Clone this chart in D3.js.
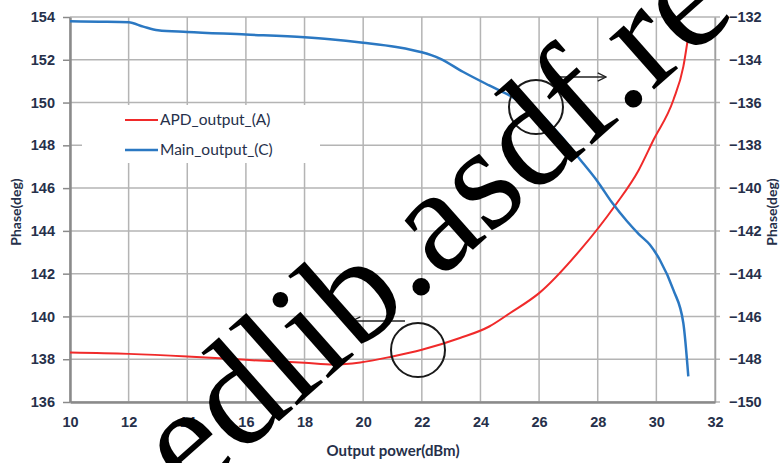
<!DOCTYPE html>
<html>
<head>
<meta charset="utf-8">
<script src="https://cdn.jsdelivr.net/npm/d3@7"></script>
<style>
  body { margin: 0; background: #fff; }
  svg { display: block; font-family: Lato, "Open Sans", sans-serif; }
</style>
</head>
<body>
<svg id="chart" width="780" height="463"></svg>
<script>
// tick values for the three axes
const X_TICKS = [10, 12, 14, 16, 18, 20, 22, 24, 26, 28, 30, 32];
const LEFT_TICKS = [136, 138, 140, 142, 144, 146, 148, 150, 152, 154];
const RIGHT_TICKS = [-150, -148, -146, -144, -142, -140, -138, -136, -134, -132];

const SERIES_NAMES = ['APD_output_(A)', 'Main_output_(C)'];

// APD output (red), read against the left axis
const APD_POWER = [10, 12, 14, 16, 18, 19, 19.9, 21, 22, 23.3, 24.3, 25, 26, 27.4, 28.6, 29.4, 29.9, 30.58, 30.92, 31.11];
const APD_PHASE = [138.31, 138.25, 138.13, 137.97, 137.83, 137.75, 137.85, 138.13, 138.44, 138.99, 139.53, 140.15, 141.09, 143.1, 145.2, 146.85, 148.25, 150.12, 151.68, 153.31];

// Main output (blue), read against the right axis
const MAIN_POWER = [10, 11, 12, 12.5, 13, 14, 16, 18, 18.87, 20, 21.13, 22, 22.6, 23.4, 24.3, 25.06, 26, 26.7, 27.39, 28, 28.5, 29, 29.4, 29.78, 30.12, 30.58, 30.92, 31.09];
const MAIN_PHASE = [-132.2, -132.22, -132.25, -132.45, -132.62, -132.7, -132.82, -132.95, -133.04, -133.2, -133.4, -133.65, -133.93, -134.56, -135.2, -135.72, -136.5, -137.5, -138.65, -139.7, -140.7, -141.55, -142.15, -142.65, -143.36, -144.76, -146.31, -148.8];

const W = 780, H = 463;
const M = {top: 17, right: 65, bottom: 61, left: 70};
const TEXT_COLOR = '#26304a';
const GRID_COLOR = '#b4b4b4';
const TICK_FONT = 14.5;

const svg = d3.select('#chart');

const xscale = d3.scaleLinear().domain([10, 32]).range([M.left, W - M.right]);
const yleft = d3.scaleLinear().domain([136, 154]).range([H - M.bottom, M.top]);
const yright = d3.scaleLinear().domain([-150, -132]).range([H - M.bottom, M.top]);

// grid first so everything else sits on top
let grid = svg.append('g').classed('grid', true);
grid.selectAll('.hgrid').data(LEFT_TICKS)
  .enter()
  .append('line')
  .attr('x1', M.left)
  .attr('x2', W - M.right + 5)
  .attr('y1', d => yleft(d))
  .attr('y2', d => yleft(d))
  .attr('stroke', GRID_COLOR)
  .attr('stroke-width', 1.5);
grid.selectAll('.vgrid').data(X_TICKS)
  .enter()
  .append('line')
  .attr('x1', d => xscale(d))
  .attr('x2', d => xscale(d))
  .attr('y1', M.top)
  .attr('y2', H - M.bottom)
  .attr('stroke', GRID_COLOR)
  .attr('stroke-width', 1.5);

// left axis
let lax = svg.append('g')
  .attr('transform', `translate(${M.left} 0)`)
  .call(d3.axisLeft(yleft).tickValues(LEFT_TICKS).tickSizeOuter(0).tickSizeInner(7).tickPadding(8));
// right axis
let rax = svg.append('g')
  .attr('transform', `translate(${W - M.right} 0)`)
  .call(d3.axisRight(yright).tickValues(RIGHT_TICKS).tickSizeOuter(0).tickSizeInner(0).tickPadding(14));
// bottom axis
let bax = svg.append('g')
  .attr('transform', `translate(0 ${H - M.bottom})`)
  .call(d3.axisBottom(xscale).tickValues(X_TICKS).tickSizeOuter(0).tickSizeInner(0).tickPadding(15));

[lax, rax, bax].forEach(ax => {
  ax.selectAll('text')
    .attr('fill', TEXT_COLOR)
    .attr('font-size', TICK_FONT)
    .attr('font-weight', 600);
  ax.selectAll('.tick line').attr('stroke', '#8a8a8a').attr('stroke-width', 1.5);
});
lax.select('.domain').attr('stroke', '#8a8a8a').attr('stroke-width', 2.5);
bax.select('.domain').attr('stroke', '#8a8a8a').attr('stroke-width', 2.5);
rax.select('.domain').attr('stroke', '#a0a0a0').attr('stroke-width', 1.5);

// axis titles
let ytitle = (x) => svg.append('text')
  .attr('transform', `translate(${x} 212) rotate(-90)`)
  .attr('text-anchor', 'middle')
  .attr('font-size', 14)
  .attr('font-weight', 700)
  .attr('fill', TEXT_COLOR)
  .text('Phase(deg)');
ytitle(21);
ytitle(777);
svg.append('text')
  .attr('x', 393)
  .attr('y', 456)
  .attr('text-anchor', 'middle')
  .attr('font-size', 15)
  .attr('font-weight', 700)
  .attr('fill', TEXT_COLOR)
  .text('Output power(dBm)');

// series
let series = [
  {name: SERIES_NAMES[0], xs: APD_POWER, ys: APD_PHASE, yscale: yleft, color: '#f02a2a', w: 2},
  {name: SERIES_NAMES[1], xs: MAIN_POWER, ys: MAIN_PHASE, yscale: yright, color: '#2b78c2', w: 2.5},
];
series.forEach(s => {
  let pts = s.xs.map((x, i) => [x, s.ys[i]]);
  let line = d3.line()
    .x(p => xscale(p[0]))
    .y(p => s.yscale(p[1]))
    .curve(d3.curveMonotoneX);
  svg.append('path')
    .datum(pts)
    .attr('d', line)
    .attr('fill', 'none')
    .attr('stroke', s.color)
    .attr('stroke-width', s.w)
    .attr('stroke-linejoin', 'round');
});

// legend box covers the grid behind it
let leg = svg.append('g').classed('legend', true);
leg.append('rect')
  .attr('x', 82).attr('y', 105)
  .attr('width', 238).attr('height', 58)
  .attr('fill', '#fff');
let items = leg.selectAll('.item').data(series)
  .enter()
  .append('g')
  .attr('transform', (d, i) => `translate(125 ${120 + i * 30})`);
items.append('line')
  .attr('x1', 0).attr('x2', 33)
  .attr('stroke', d => d.color)
  .attr('stroke-width', d => d.w);
items.append('text')
  .attr('x', 35)
  .attr('dy', '0.35em')
  .attr('font-size', 15.5)
  .attr('fill', TEXT_COLOR)
  .text(d => d.name);

// the scanned watermark + annotation marks on top of everything
const WATERMARK = 'edlib.asdf.re';
let wm = svg.append('g').classed('watermark', true);
let defs = svg.append('defs');
defs.append('marker')
  .attr('id', 'arrow')
  .attr('viewBox', '0 0 10 10')
  .attr('refX', 9).attr('refY', 5)
  .attr('markerWidth', 8).attr('markerHeight', 8)
  .attr('orient', 'auto-start-reverse')
  .append('path')
  .attr('d', 'M1 1 L9 5 L1 9')
  .attr('fill', 'none')
  .attr('stroke', '#222')
  .attr('stroke-width', 1.3);
wm.append('line')
  .attr('x1', 556).attr('y1', 77).attr('x2', 606).attr('y2', 77)
  .attr('stroke', '#222').attr('stroke-width', 1.3)
  .attr('marker-end', 'url(#arrow)');
wm.append('line')
  .attr('x1', 405).attr('y1', 321).attr('x2', 352).attr('y2', 321)
  .attr('stroke', '#222').attr('stroke-width', 1.3)
  .attr('marker-end', 'url(#arrow)');
wm.selectAll('circle').data([[536, 107], [418, 350]])
  .enter()
  .append('circle')
  .attr('cx', d => d[0]).attr('cy', d => d[1])
  .attr('r', 27)
  .attr('fill', 'none')
  .attr('stroke', '#1a1a1a')
  .attr('stroke-width', 2);
// anchored so the second full stop lands where it is in the scan
wm.append('text')
  .attr('transform', 'translate(190 500) rotate(-41.5)')
  .attr('font-family', '"Liberation Serif", "DejaVu Serif", serif')
  .attr('font-size', 148)
  .attr('fill', '#000')
  .text(WATERMARK);
</script>
</body>
</html>
